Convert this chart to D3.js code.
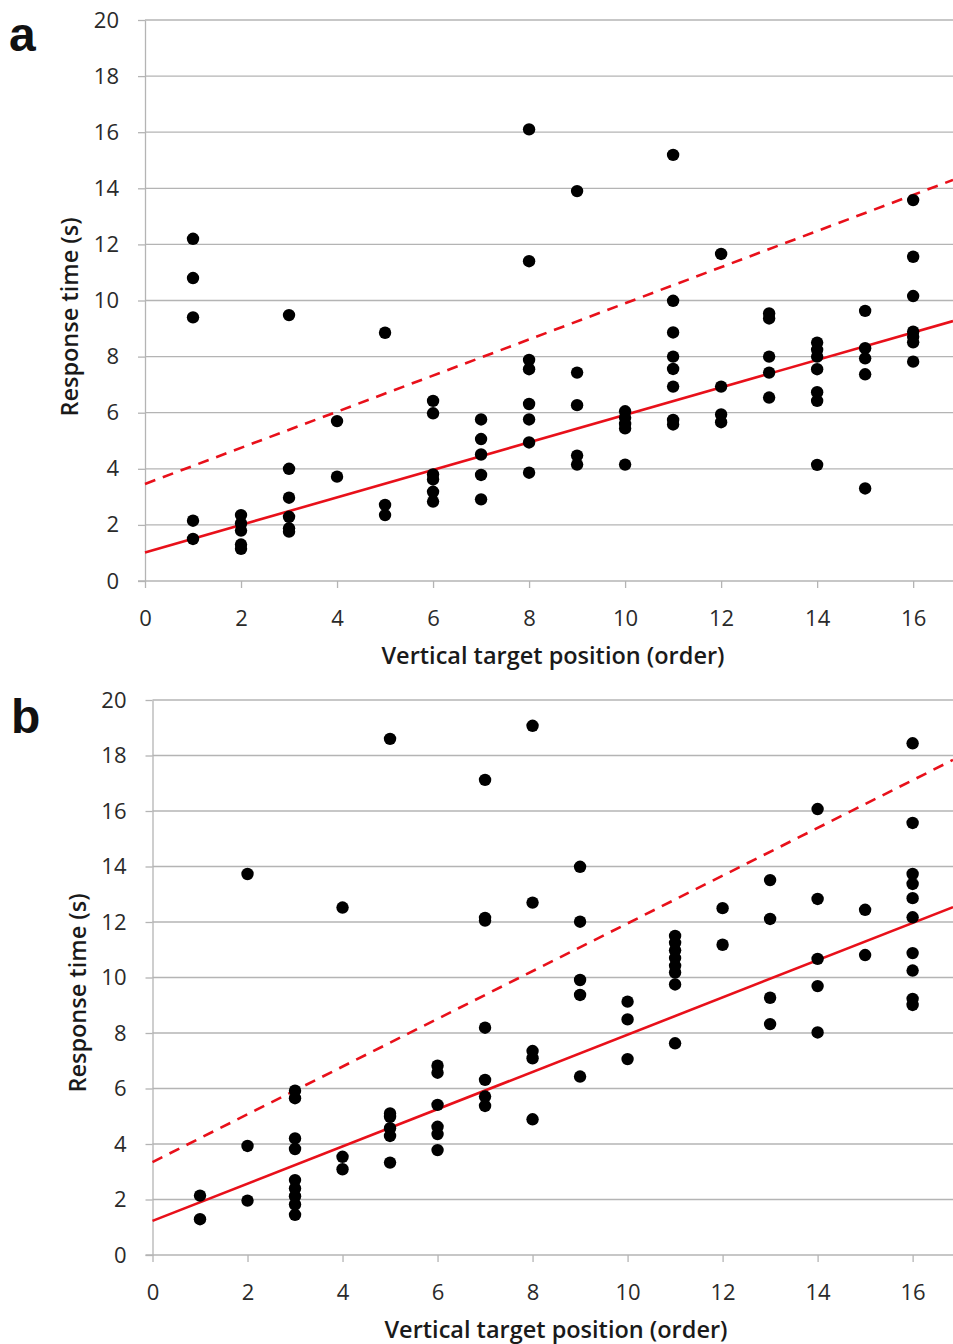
<!DOCTYPE html>
<html>
  <head>
    <meta charset="utf-8" />
    <script src="https://d3js.org/d3.v7.min.js"></script>
    <style>
      body { margin: 0; background: #fff; }
      text { font-family: "Open Sans", sans-serif; }
      .grid line { stroke: #b4b4b4; stroke-width: 1.3; }
      .axis path, .axis line { stroke: #b4b4b4; stroke-width: 1.3; }
      .axis text { fill: #2a2a2a; }
      .title { font-weight: 600; font-size: 23.5px; fill: #1a1a1a; }
      .panel { font-family: Arial, "Liberation Sans", sans-serif; font-weight: bold; font-size: 48px; fill: #111; }
    </style>
  </head>
  <body>
    <div id="master"></div>
    <script type="text/javascript">
// panel a: order on x, response time on y
var aX = [1,1,1,1,1,
  2,2,2,2,2,
  3,3,3,3,3,3,
  4,4,
  5,5,5,
  6,6,6,6,6,6,
  7,7,7,7,7,
  8,8,8,8,8,8,8,8,
  9,9,9,9,9,
  10,10,10,10,10,
  11,11,11,11,11,11,11,11,
  12,12,12,12,
  13,13,13,13,13,
  14,14,14,14,14,14,14,
  15,15,15,15,15,
  16,16,16,16,16,16,16];
var aY = [12.2,10.8,9.4,2.15,1.5,
  2.35,2.05,1.8,1.3,1.15,
  9.48,4.0,2.97,2.29,1.88,1.76,
  5.7,3.72,
  8.85,2.71,2.35,
  6.42,5.98,3.8,3.62,3.18,2.83,
  5.76,5.06,4.51,3.78,2.91,
  16.1,11.4,7.88,7.55,6.31,5.76,4.94,3.86,
  13.9,7.43,6.27,4.47,4.15,
  6.05,5.82,5.6,5.44,4.15,
  15.19,9.99,8.86,8.0,7.56,6.93,5.74,5.58,
  11.66,6.93,5.94,5.66,
  9.54,9.36,8.0,7.43,6.54,
  8.5,8.24,8.0,7.55,6.73,6.42,4.14,
  9.63,8.3,7.94,7.37,3.3,
  13.58,11.56,10.16,8.89,8.71,8.51,7.82];
var aFit = [1.02, 0.49];     // intercept, slope (solid)
var aUpper = [3.46, 0.644];  // dashed

// panel b
var bX = [1,1,
  2,2,2,
  3,3,3,3,3,3,3,3,3,
  4,4,4,
  5,5,5,5,5,5,
  6,6,6,6,6,6,
  7,7,7,7,7,7,7,
  8,8,8,8,8,
  9,9,9,9,9,
  10,10,10,
  11,11,11,11,11,11,11,11,
  12,12,
  13,13,13,13,
  14,14,14,14,14,
  15,15,
  16,16,16,16,16,16,16,16,16,16];
var bY = [2.14,1.29,
  13.73,3.93,1.96,
  5.92,5.65,4.2,3.82,2.7,2.4,2.12,1.82,1.45,
  12.52,3.54,3.09,
  18.6,5.1,4.98,4.57,4.29,3.33,
  6.82,6.57,5.41,4.62,4.36,3.78,
  17.12,12.15,12.05,8.19,6.31,5.71,5.37,
  19.07,12.7,7.35,7.09,4.89,
  13.99,12.01,9.91,9.37,6.43,
  9.13,8.49,7.06,
  11.5,11.25,10.98,10.7,10.42,10.18,9.75,7.63,
  12.5,11.18,
  13.51,12.11,9.27,8.32,
  16.07,12.83,10.67,9.69,8.02,
  12.44,10.81,
  18.44,15.57,13.73,13.37,12.86,12.17,10.88,10.25,9.23,9.01];
var bFit = [1.23, 0.671];
var bUpper = [3.35, 0.86];

var yTicks = [0,2,4,6,8,10,12,14,16,18,20];
var xTicks = [0,2,4,6,8,10,12,14,16];

var width = 953, height = 1344;
var svg = d3.select("#master").append("svg")
  .attr("width", width)
  .attr("height", height);

function drawPanel(cfg) {
  var x = d3.scaleLinear().domain([0, cfg.xMax]).range([cfg.left, width]);
  var y = d3.scaleLinear().domain([0, 20]).range([cfg.bottom, cfg.top]);
  var g = svg.append("g");

  // horizontal gridlines
  g.append("g").attr("class", "grid")
    .selectAll("line").data(yTicks.slice(1)).enter().append("line")
      .attr("x1", cfg.left).attr("x2", width)
      .attr("y1", function(d){ return y(d); })
      .attr("y2", function(d){ return y(d); });

  var ya = g.append("g").attr("class", "axis")
    .attr("transform", "translate(" + cfg.left + ",0)")
    .call(d3.axisLeft(y).tickValues(yTicks).tickSize(7).tickPadding(cfg.yPad).tickSizeOuter(0));
  ya.selectAll("text").style("font-size", "22px");

  var xa = g.append("g").attr("class", "axis")
    .attr("transform", "translate(0," + cfg.bottom + ")")
    .call(d3.axisBottom(x).tickValues(xTicks).tickSize(7).tickPadding(22).tickSizeOuter(0));
  xa.selectAll("text").style("font-size", "22px");
  xa.select(".domain").attr("d", "M" + (cfg.left - 7) + ",0H" + width);

  // fit lines
  var xs = [0, cfg.xMax];
  var line = d3.line()
    .x(function(d){ return x(d[0]); })
    .y(function(d){ return y(d[1]); });
  g.append("path")
    .datum(xs.map(function(v){ return [v, cfg.upper[0] + cfg.upper[1]*v]; }))
    .attr("d", line)
    .attr("fill", "none").attr("stroke", "#e8101a")
    .attr("stroke-width", 2.6).attr("stroke-dasharray", "11,8");
  g.append("path")
    .datum(xs.map(function(v){ return [v, cfg.fit[0] + cfg.fit[1]*v]; }))
    .attr("d", line)
    .attr("fill", "none").attr("stroke", "#e8101a")
    .attr("stroke-width", 2.6);

  g.selectAll(".dot").data(cfg.xs).enter().append("circle")
    .attr("class", "dot")
    .attr("cx", function(d){ return x(d); })
    .attr("cy", function(d, i){ return y(cfg.ys[i]); })
    .attr("r", 6.2)
    .attr("fill", "#000");

  g.append("text").attr("class", "title")
    .attr("text-anchor", "middle")
    .attr("x", cfg.xTitle[0]).attr("y", cfg.xTitle[1])
    .text("Vertical target position (order)");
  g.append("text").attr("class", "title")
    .attr("text-anchor", "middle")
    .attr("transform", "translate(" + cfg.yTitle[0] + "," + cfg.yTitle[1] + ") rotate(-90)")
    .text("Response time (s)");
  g.append("text").attr("class", "panel")
    .attr("x", cfg.letterPos[0]).attr("y", cfg.letterPos[1])
    .text(cfg.letter);
}

drawPanel({ xs: aX, ys: aY, fit: aFit, upper: aUpper, xMax: 16.83,
  left: 145, top: 20, bottom: 581, yPad: 19,
  xTitle: [553, 664], yTitle: [78, 317], letter: "a", letterPos: [9, 51] });

drawPanel({ xs: bX, ys: bY, fit: bFit, upper: bUpper, xMax: 16.85,
  left: 152.5, top: 700, bottom: 1255, yPad: 19,
  xTitle: [556, 1338], yTitle: [86, 993], letter: "b", letterPos: [11, 733] });
    </script>
  </body>
</html>
